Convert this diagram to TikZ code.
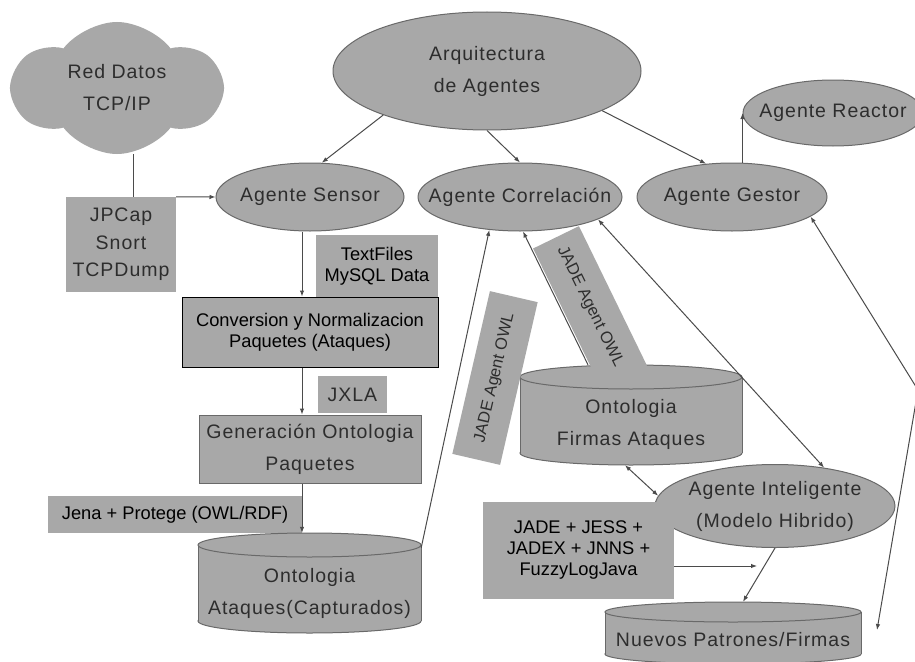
\documentclass[tikz,border=0pt]{standalone}
\usepackage{fontspec}
\setmainfont{Liberation Sans}
\newfontfamily\blurfont[LetterSpace=5]{Liberation Sans}
\usetikzlibrary{shapes.geometric,shapes.symbols,arrows.meta}

\definecolor{boxgray}{RGB}{168,168,168}
\definecolor{edgegray}{RGB}{105,105,105}
\definecolor{linegray}{RGB}{75,75,75}
\definecolor{txtgray}{RGB}{45,45,45}

\newcommand{\lblsize}{\fontsize{19.5}{32}\selectfont}
\newcommand{\plainsize}{\fontsize{18.3}{21}\selectfont}

% cylinder: centre x, top y, bottom y, x radius, y radius
\newcommand{\dbcyl}[5]{%
  \filldraw[fill=boxgray, draw=edgegray, line width=1pt] (#1,#3) ellipse [x radius=#4, y radius=#5];
  \fill[boxgray] (#1-#4,#2) rectangle (#1+#4,#3);
  \draw[edgegray, line width=1pt] (#1-#4,#2) -- (#1-#4,#3) (#1+#4,#2) -- (#1+#4,#3);
  \filldraw[fill=boxgray, draw=edgegray, line width=1pt] (#1,#2) ellipse [x radius=#4, y radius=#5];
}

\begin{document}
\begin{tikzpicture}[x=1pt, y=-1pt,
    soft/.style={font=\blurfont\lblsize, text=txtgray, align=center},
    sharp/.style={font=\plainsize, text=black, align=center},
    agent/.style={ellipse, fill=boxgray, draw=edgegray, line width=1pt, soft, inner xsep=-45pt, inner ysep=-30pt},
    gbox/.style={rectangle, fill=boxgray, inner sep=0pt},
    owl/.style={gbox, font=\fontsize{16.5}{18}\selectfont, text=txtgray},
    area/.style={rectangle, inner sep=0pt},
    link/.style={draw=linegray, line width=1pt},
    arr/.style={link, -{Latex[length=6pt,width=4.5pt]}},
    darr/.style={link, {Latex[length=6pt,width=4.5pt]}-{Latex[length=6pt,width=4.5pt]}}]

    \fill[white] (0,0) rectangle (915,661);
    \useasboundingbox (0,0) rectangle (915,661);

    % Network and agents
    \node[cloud, cloud puffs=6, cloud puff arc=105, cloud ignores aspect, fill=boxgray, soft, inner sep=-25pt,
          minimum width=208, minimum height=132] (net) at (117,88) {Red Datos\\TCP/IP};
    \node[agent, minimum width=308, minimum height=118] (arq) at (487,71) {Arquitectura\\de Agentes};
    \node[agent, minimum width=188, minimum height=68] (sensor) at (310,197) {Agente Sensor};
    \node[agent, minimum width=204, minimum height=68] (corr) at (520,197) {Agente Correlación};
    \node[agent, minimum width=190, minimum height=68] (gestor) at (732,197) {Agente Gestor};
    \node[agent, minimum width=180, minimum height=66] (react) at (833,113) {Agente Reactor};

    % Capture chain
    \node[gbox, soft, minimum width=110, minimum height=95,
          font=\blurfont\fontsize{19.5}{27.5}\selectfont] (jpcap) at (121,244.5) {JPCap\\Snort\\TCPDump};
    \node[gbox, sharp, minimum width=122, minimum height=62] (txt) at (377,266) {TextFiles\\MySQL Data};
    \node[gbox, sharp, draw=black, line width=1pt, minimum width=256, minimum height=70] (conv) at (310,332)
        {Conversion y Normalizacion\\Paquetes (Ataques)};
    \node[gbox, soft, minimum width=69, minimum height=37] (jxla) at (352.5,394.5) {JXLA};
    \node[gbox, soft, draw=edgegray, line width=1pt, minimum width=222, minimum height=68] (gen) at (310,449)
        {Generación Ontologia\\Paquetes};
    \node[gbox, sharp, minimum width=254, minimum height=37] (jena) at (175,514.5) {Jena + Protege (OWL/RDF)};

    % Ontologia Ataques
    \dbcyl{309.5}{545}{621}{111.5}{12}
    \node[area, minimum width=223, minimum height=100] (ontA) at (309.5,583) {};
    \node[soft] (ontAtxt) at (309.5,593.5) {Ontologia\\Ataques(Capturados)};

    % Ontologia Firmas
    \dbcyl{631}{377}{453}{111}{12}
    \node[area, minimum width=222, minimum height=100] (ontF) at (631,415) {};
    \node[soft] (ontFtxt) at (631,424) {Ontologia\\Firmas Ataques};

    % JADE labels
    \node[owl, rotate=77, minimum width=167, minimum height=49] (owlA) at (495,378) {JADE Agent OWL};
    \node[owl, rotate=-64, minimum width=155, minimum height=51] (owlB) at (590,307) {JADE Agent OWL};

    \node[agent, minimum width=240, minimum height=83] (intel) at (775,506) {Agente Inteligente\\(Modelo Hibrido)};
    \node[gbox, sharp, minimum width=191, minimum height=97] (jade) at (578.5,550.5)
        {JADE + JESS +\\JADEX + JNNS +\\FuzzyLogJava};

    % Nuevos Patrones
    \dbcyl{733}{612}{654}{128}{10}
    \node[area, minimum width=256, minimum height=60] (nuevos) at (733,632) {};
    \node[soft] (nuevostxt) at (733,640) {Nuevos Patrones/Firmas};

    % Connectors
    \coordinate (cj) at ([xshift=12pt]jpcap.north);
    \draw[link] (cj) -- (cj |- net.south);
    \draw[arr] (jpcap.north east) -- (sensor.west);
    \draw[arr] (arq.203) -- (sensor.71);
    \draw[arr] (arq.south) -- (corr.north);
    \draw[arr] (arq.-19) -- (gestor.128);
    \draw[arr] (gestor.north -| react.west) -- (react.west);
    \draw[arr] ([xshift=-8pt]sensor.south) -- ([xshift=-8pt]conv.north);
    \draw[arr] ([xshift=-8pt]conv.south) -- ([xshift=-8pt]gen.north);
    \draw[arr] ([xshift=-8pt]gen.south) -- ([xshift=-7.5pt]ontA.north);
    \draw[arr] ([yshift=-15pt]ontA.north east) -- (corr.227);
    \draw[arr] ([xshift=-43pt]ontF.north) -- (corr.275);
    \draw[darr] (corr.-16) -- (intel.38);
    \draw[darr] ([xshift=-6pt]ontF.south) -- (intel.175);
    \coordinate (jadeout) at (757,566);
    \draw[arr] (jade.east |- jadeout) -- (jadeout);
    \draw[arr] (intel.south) -- ([xshift=10pt]nuevos.north);
    \coordinate (bend) at (918,390);
    \coordinate (gestout) at (877,630);
    \draw[darr] (gestor.-14) -- (bend) -- (gestout);
\end{tikzpicture}
\end{document}
